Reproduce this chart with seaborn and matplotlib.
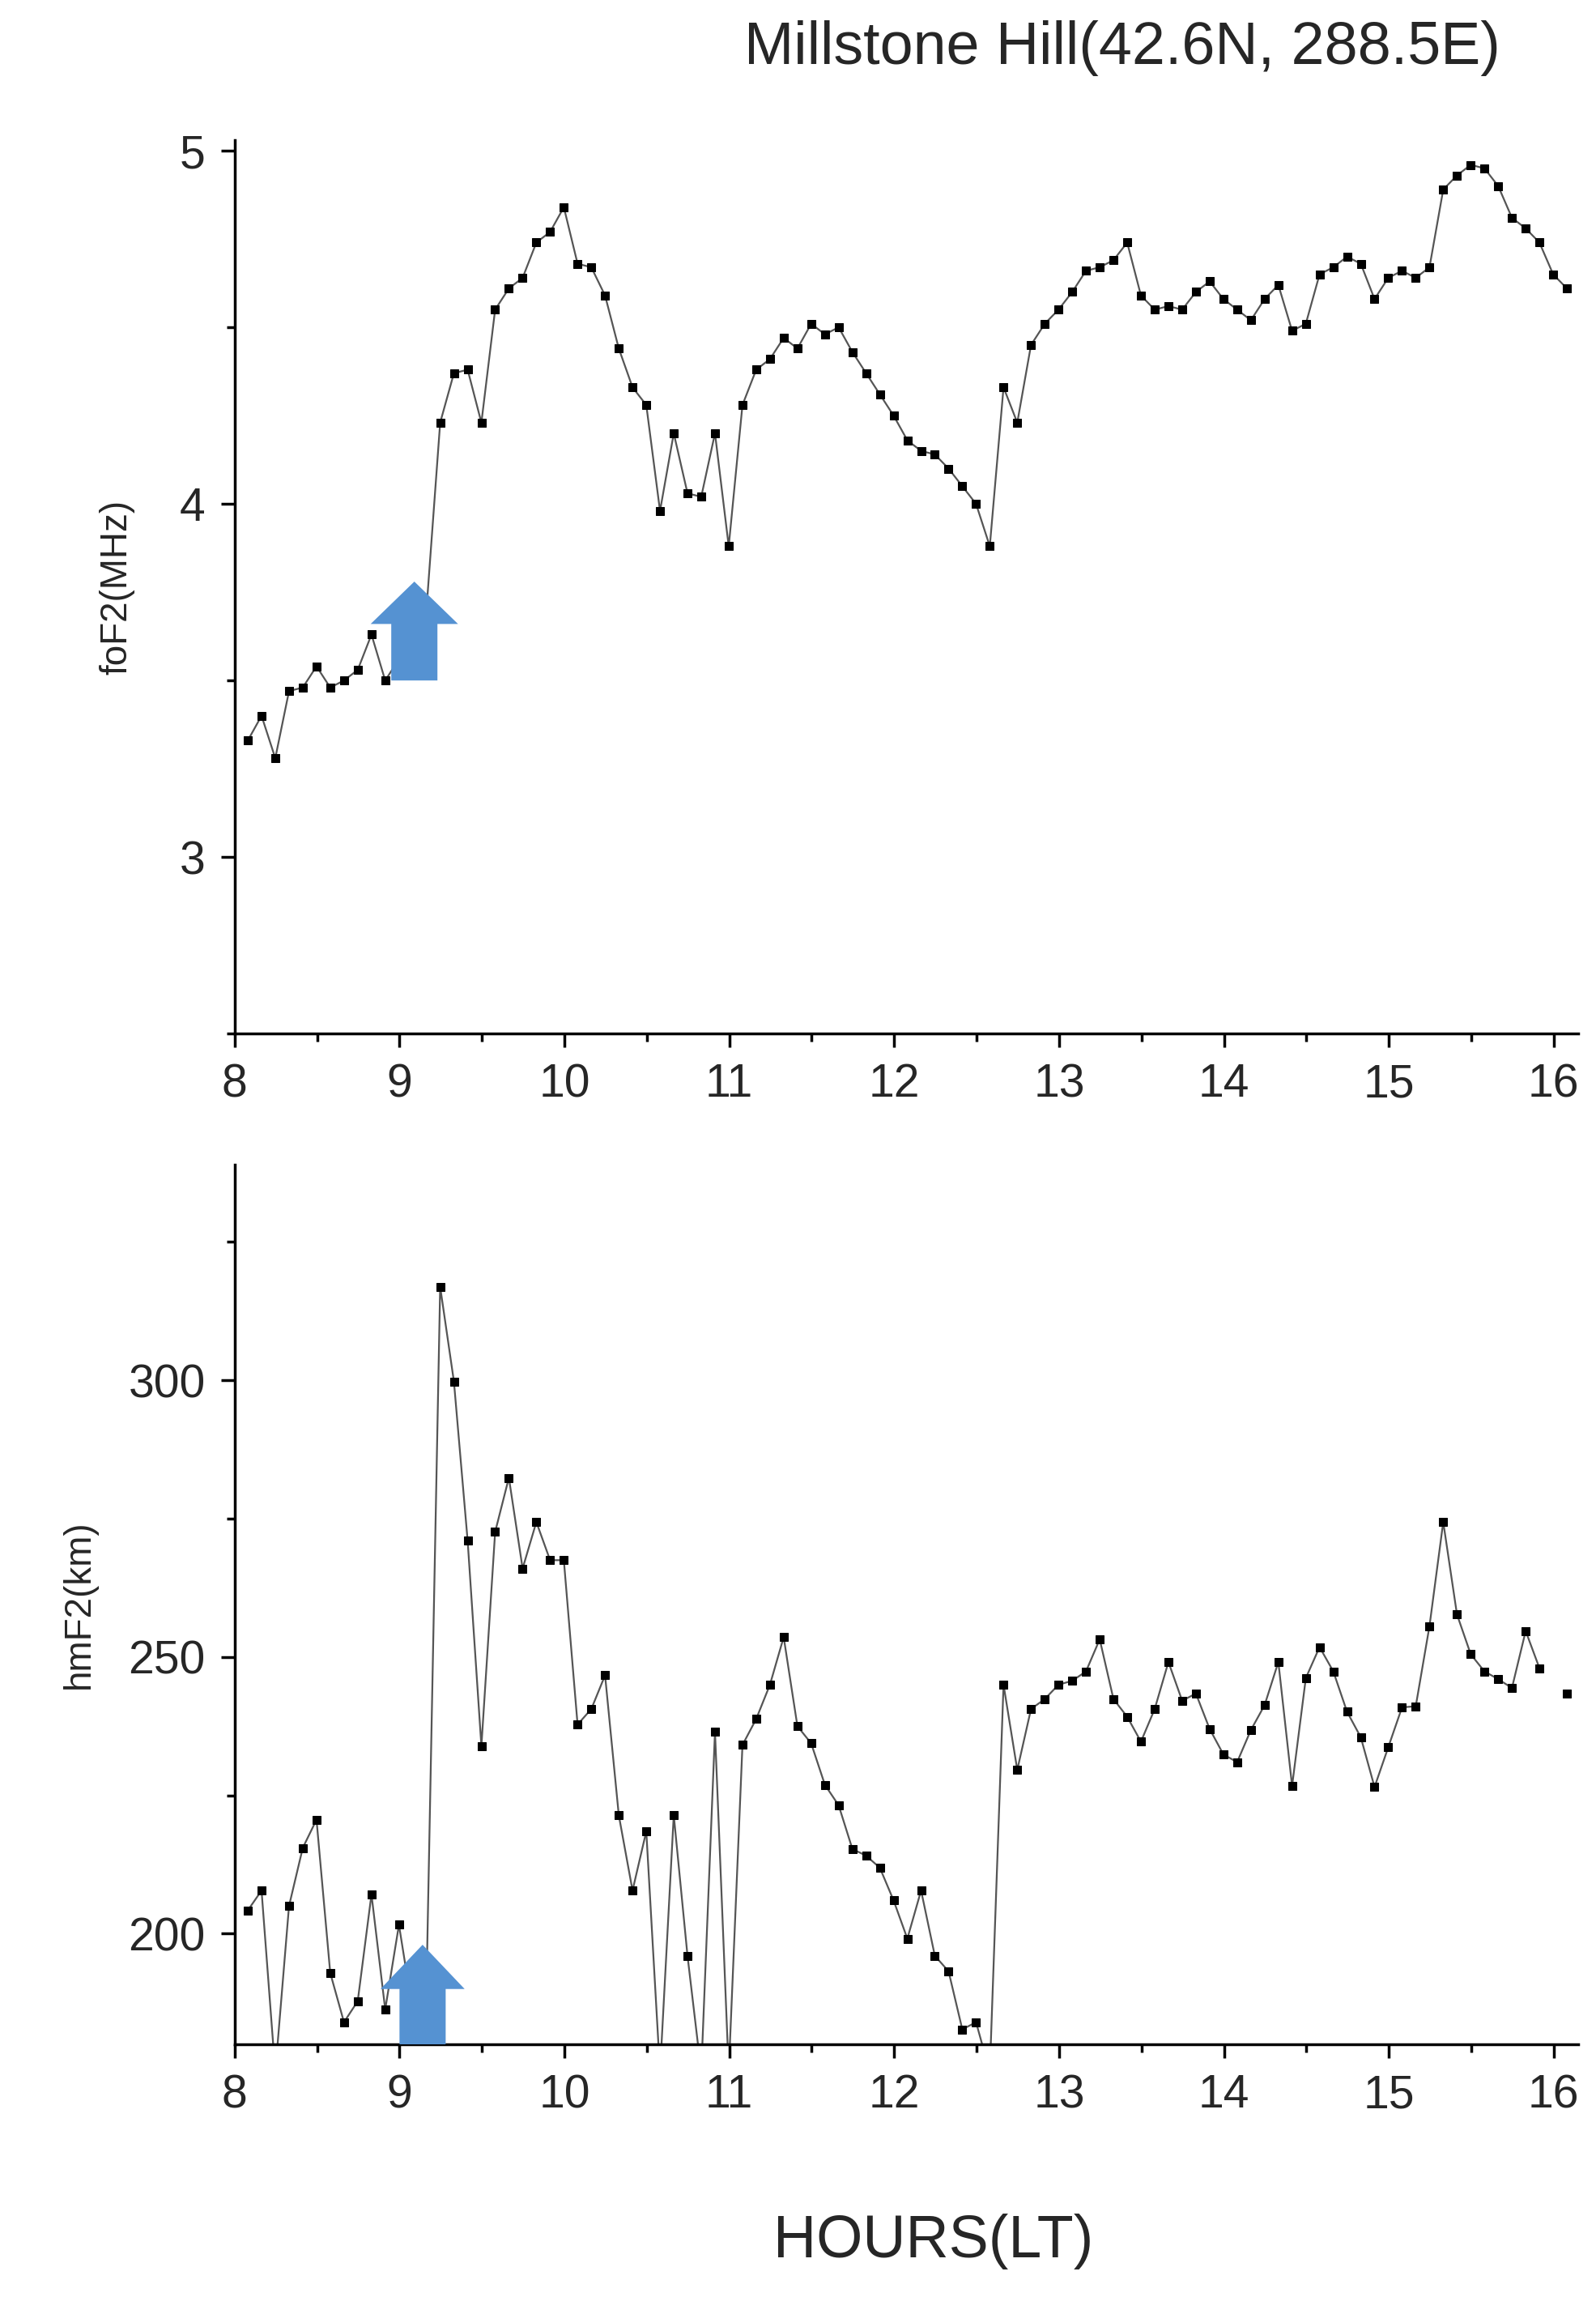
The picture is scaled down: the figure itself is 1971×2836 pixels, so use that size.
import numpy as np
import pandas as pd
import seaborn as sns
import matplotlib.pyplot as plt
from matplotlib.ticker import MultipleLocator

sns.set_style("white")
plt.rcParams['font.family'] = ['Liberation Sans', 'DejaVu Sans']

# 5-minute samples starting 08:05 LT
start_hour = 8.08
n_samples = 97

foF2 = [3.33, 3.40, 3.28, 3.47, 3.48, 3.54, 3.48, 3.50, 3.53, 3.63, 3.50,
        3.56, 3.62, 3.70,
        4.23, 4.37, 4.38, 4.23, 4.55, 4.61, 4.64, 4.74, 4.77, 4.84,
        4.68, 4.67, 4.59, 4.44, 4.33, 4.28, 3.98, 4.20, 4.03, 4.02,
        4.20, 3.88, 4.28, 4.38, 4.41, 4.47, 4.44, 4.51, 4.48, 4.50,
        4.43, 4.37, 4.31, 4.25, 4.18,
        4.15, 4.14, 4.10, 4.05, 4.00, 3.88, 4.33, 4.23, 4.45, 4.51,
        4.55, 4.60, 4.66, 4.67, 4.69, 4.74, 4.59, 4.55, 4.56, 4.55,
        4.60, 4.63, 4.58, 4.55, 4.52, 4.58, 4.62, 4.49, 4.51, 4.65,
        4.67, 4.70, 4.68, 4.58, 4.64, 4.66, 4.64, 4.67, 4.89, 4.93,
        4.96, 4.95, 4.90, 4.81, 4.78, 4.74, 4.65, 4.61]

hmF2 = [204.2, 207.8, 175.0, 205.0, 215.5, 220.6, 192.9, 184.0, 187.8, 207.1,
        186.3, 201.6, 186.0, 190.0,
        316.9, 299.8, 271.0, 233.9, 272.6, 282.4, 266.0, 274.4, 267.5, 267.5,
        237.8, 240.6, 246.7, 221.4, 207.8, 218.5, 175.0, 221.4, 196.0, 175.0,
        236.5, 175.0, 234.1, 238.8, 245.0, 253.6, 237.5, 234.4, 226.9, 223.2,
        215.3, 214.1, 211.9, 206.0, 199.1,
        207.8, 196.0, 193.2, 182.7, 184.0, 175.0, 245.0, 229.6, 240.6, 242.4,
        245.0, 245.7, 247.4, 253.2, 242.4, 239.2, 234.7, 240.6, 249.1, 242.1,
        243.4, 237.0, 232.4, 231.0, 236.8, 241.3, 249.1, 226.7, 246.2, 251.8,
        247.4, 240.1, 235.5, 226.5, 233.7, 240.9, 241.1, 255.6, 274.4, 257.7,
        250.5, 247.4, 246.0, 244.4, 254.7, 248.0, np.nan, 243.4]

hours = start_hour + np.arange(n_samples) / 12.0

df_top = pd.DataFrame({'hour': hours, 'foF2': foF2})
df_bot = pd.DataFrame({'hour': hours, 'hmF2': hmF2})
# break the line where a sample is missing
df_bot['seg'] = df_bot['hmF2'].isna().cumsum()
df_bot = df_bot.dropna()

fig = plt.figure(figsize=(19.71, 28.36), dpi=100)
ax1 = fig.add_axes([0.147, 0.550, 0.842, 0.389])
ax2 = fig.add_axes([0.147, 0.110, 0.842, 0.383])

line_kw = dict(color='#555555', linewidth=1.6, marker='s', markersize=7,
               markerfacecolor='black', markeredgecolor='black')

sns.lineplot(data=df_top, x='hour', y='foF2', ax=ax1, **line_kw)
sns.lineplot(data=df_bot, x='hour', y='hmF2', units='seg', estimator=None,
             ax=ax2, **line_kw)

for ax in (ax1, ax2):
    ax.set_xlim(8.0, 16.15)
    ax.xaxis.set_major_locator(MultipleLocator(1))
    ax.xaxis.set_minor_locator(MultipleLocator(0.5))
    for s in ('top', 'right'):
        ax.spines[s].set_visible(False)
    for s in ('left', 'bottom'):
        ax.spines[s].set_linewidth(2.5)
        ax.spines[s].set_color('black')
    ax.tick_params(which='both', direction='out', width=2.5, color='black',
                   labelsize=41, pad=14, left=True, bottom=True)
    ax.tick_params(which='major', length=12)
    ax.tick_params(which='minor', length=7)
    ax.set_xlabel('')

ax1.set_ylim(2.5, 5.03)
ax1.yaxis.set_major_locator(MultipleLocator(1))
ax1.yaxis.set_minor_locator(MultipleLocator(0.5))
ax1.set_ylabel('foF2(MHz)', fontsize=33, labelpad=40)

ax2.set_ylim(180, 339)
ax2.yaxis.set_major_locator(MultipleLocator(50))
ax2.yaxis.set_minor_locator(MultipleLocator(25))
ax2.set_ylabel('hmF2(km)', fontsize=33, labelpad=28)

arrow_color = '#5592D2'
ax1.arrow(9.09, 3.50, 0, 0.28, width=0.28, head_width=0.53, head_length=0.12,
          length_includes_head=True, color=arrow_color, zorder=5, linewidth=0)
ax2.arrow(9.14, 180, 0, 18, width=0.28, head_width=0.51, head_length=8,
          length_includes_head=True, color=arrow_color, zorder=5, linewidth=0,
          clip_on=False)

fig.text(0.703, 0.979, 'Millstone Hill(42.6N, 288.5E)', fontsize=53,
         ha='center', va='center')
fig.text(0.585, 0.024, 'HOURS(LT)', fontsize=53, ha='center', va='center')

fig.savefig('out.png', dpi=100, facecolor='white')
